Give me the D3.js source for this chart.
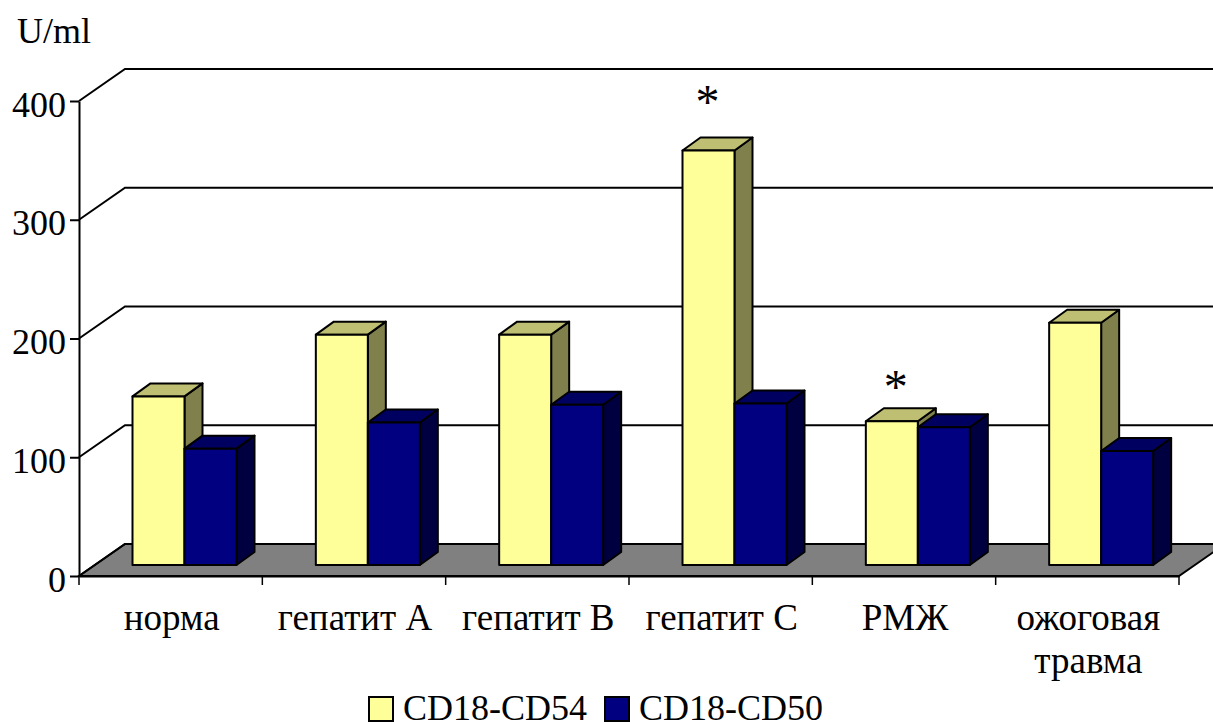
<!DOCTYPE html>
<html lang="ru">
<head>
<meta charset="utf-8">
<title>U/ml</title>
<script src="https://d3js.org/d3.v7.min.js"></script>
<style>
	body { margin: 0; background: #fff; }
	svg { display: block; }
	text { font-family: "Liberation Serif", serif; fill: #000; }
	.tick-label { font-size: 36px; }
	.cat-label { font-size: 37px; }
	.unit-label { font-size: 36px; }
	.legend-label { font-size: 36px; }
</style>
</head>
<body>
<svg id="chart" width="1213" height="722"></svg>
<script>
// Data
const categories = ["норма", "гепатит А", "гепатит В", "гепатит С", "РМЖ", "ожоговая травма"];
const seriesNames = ["CD18-CD54", "CD18-CD50"];
const cd54 = [142, 194, 194, 349, 121, 204];
const cd50 = [98, 120, 135, 136, 116, 96];
const yTicks = [0, 100, 200, 300, 400];
const starred = ["гепатит С", "РМЖ"];

const width = 1213, height = 722;
const left = 79, right = 1179, floorY = 576, topY = 101;
const depth = { x: 46, y: -32 };   // depth of the chart box
const barDepth = { x: 18, y: -13 }; // depth of a single bar
const barInset = { x: 53.5, y: -11 };  // where a group starts inside its band
const groupWidth = 104;
// asterisks are placed by hand in the original, so each has its own nudge
const starNudge = { "гепатит С": { x: -1, y: -33 }, "РМЖ": { x: 4, y: -18 } };

const colors = {
	"CD18-CD54": { front: "#ffff99", top: "#bfbf73", side: "#80804d" },
	"CD18-CD50": { front: "#000080", top: "#000060", side: "#000040" }
};

const svg = d3.select("#chart");

const x = d3.scaleBand().domain(categories).range([left, right]);
const x1 = d3.scaleBand().domain(seriesNames).range([0, groupWidth]);
const y = d3.scaleLinear().domain([0, 400]).range([floorY, topY]);

// Floor
svg.append("path")
	.attr("d", `M${left},${floorY}L${left + depth.x},${floorY + depth.y}L${right + depth.x},${floorY + depth.y}L${right},${floorY}Z`)
	.attr("fill", "#808080")
	.attr("stroke", "#000")
	.attr("stroke-width", 2);

// Back wall grid and left wall diagonals
const grid = svg.append("g").attr("fill", "none").attr("stroke", "#000").attr("stroke-width", 2);
yTicks.forEach(t => {
	grid.append("path")
		.attr("d", `M${left},${y(t)}L${left + depth.x},${y(t) + depth.y}L${width},${y(t) + depth.y}`);
});

// Axes
const yAxis = svg.append("g")
	.attr("transform", `translate(${left},0)`)
	.call(d3.axisLeft(y).tickValues(yTicks).tickSize(9).tickSizeOuter(0).tickPadding(4));
yAxis.select(".domain").attr("stroke-width", 2);
yAxis.selectAll("line").attr("stroke-width", 2);
yAxis.selectAll("text")
	.attr("class", "tick-label")
	.attr("font-family", null)
	.attr("font-size", null)
	.attr("dy", "0.42em");

const xAxis = svg.append("g")
	.attr("transform", `translate(0,${floorY})`)
	.call(d3.axisBottom(x).tickValues([]).tickSizeOuter(0));
xAxis.select(".domain").attr("stroke-width", 2);

const tickXs = categories.map(c => x(c)).concat(right);
svg.append("g").selectAll("line").data(tickXs).join("line")
	.attr("x1", d => d).attr("x2", d => d)
	.attr("y1", floorY).attr("y2", floorY + 9)
	.attr("stroke", "#000").attr("stroke-width", 1.5);

// Bars
const bars = svg.append("g").attr("stroke", "#000").attr("stroke-width", 2).attr("stroke-linejoin", "round");
categories.forEach((cat, i) => {
	[cd54[i], cd50[i]].forEach((v, s) => {
		const name = seriesNames[s];
		const c = colors[name];
		const x0 = x(cat) + barInset.x + x1(name);
		const x2 = x0 + x1.bandwidth();
		const yb = y(0) + barInset.y;
		const yt = y(v) + barInset.y;
		const dx = barDepth.x, dy = barDepth.y;
		bars.append("path")
			.attr("d", `M${x2},${yt}L${x2 + dx},${yt + dy}L${x2 + dx},${yb + dy}L${x2},${yb}Z`)
			.attr("fill", c.side);
		bars.append("path")
			.attr("d", `M${x0},${yt}L${x0 + dx},${yt + dy}L${x2 + dx},${yt + dy}L${x2},${yt}Z`)
			.attr("fill", c.top);
		bars.append("rect")
			.attr("x", x0).attr("y", yt)
			.attr("width", x2 - x0).attr("height", yb - yt)
			.attr("fill", c.front);
		if (s === 0 && starred.includes(cat)) {
			svg.append("text")
				.attr("x", x0 + x1.bandwidth() / 2 + starNudge[cat].x)
				.attr("y", yt + starNudge[cat].y)
				.attr("text-anchor", "middle")
				.attr("font-size", 48)
				.text("*");
		}
	});
});

// Category labels
categories.forEach(cat => {
	const parts = cat === "ожоговая травма" ? cat.split(" ") : [cat];
	parts.forEach((p, j) => {
		svg.append("text")
			.attr("class", "cat-label")
			.attr("x", x(cat) + x.bandwidth() / 2 + 1)
			.attr("y", 630 + j * 43)
			.attr("text-anchor", "middle")
			.text(p);
	});
});

// Unit
svg.append("text").attr("class", "unit-label").attr("x", 17).attr("y", 43).text("U/ml");

// Legend
const legendX = [369, 605];
seriesNames.forEach((name, i) => {
	svg.append("rect")
		.attr("x", legendX[i]).attr("y", 697)
		.attr("width", 24).attr("height", 24)
		.attr("fill", colors[name].front)
		.attr("stroke", "#000").attr("stroke-width", 2);
	svg.append("text")
		.attr("class", "legend-label")
		.attr("x", legendX[i] + 34).attr("y", 720)
		.text(name);
});
</script>
</body>
</html>
